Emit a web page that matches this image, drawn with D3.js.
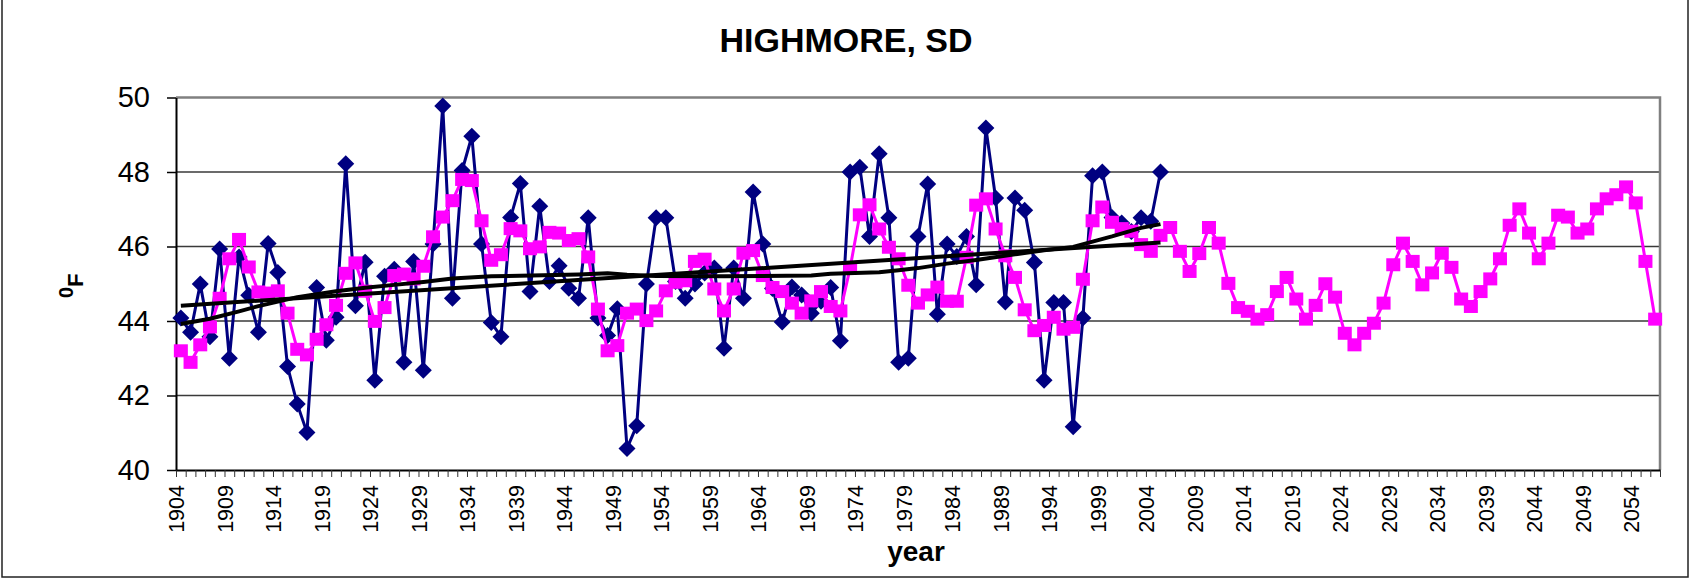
<!DOCTYPE html>
<html>
<head>
<meta charset="utf-8">
<script src="https://cdn.jsdelivr.net/npm/d3@7"></script>
<style>
  body { margin: 0; background: #fff; }
  svg { display: block; font-family: "Liberation Sans", Arial, sans-serif; }
</style>
</head>
<body>
<div id="chart"></div>
<script>
// annual mean temperature, Highmore SD (observed 1904-2005)
var observedStart = 1904;
var observed = [
	44.08, 43.70, 44.99, 43.58, 45.93, 43.00, 45.72, 44.69, 43.70, 46.08,
	45.30, 42.78, 41.77, 41.01, 44.90, 43.48, 44.10, 48.22, 44.41, 45.58,
	42.41, 45.20, 45.39, 42.89, 45.60, 42.68, 46.07, 49.77, 44.61, 48.04,
	48.96, 46.07, 43.96, 43.58, 46.78, 47.69, 44.79, 47.08, 45.06, 45.48,
	44.88, 44.61, 46.77, 44.08, 43.61, 44.33, 40.58, 41.19, 44.99, 46.77,
	46.77, 45.06, 44.61, 44.99, 45.29, 45.42, 43.27, 45.42, 44.61, 47.46,
	46.07, 44.87, 43.97, 44.91, 44.70, 44.21, 44.53, 44.90, 43.47, 48.00,
	48.13, 46.27, 48.49, 46.77, 42.89, 43.00, 46.27, 47.68, 44.18, 46.07,
	45.73, 46.27, 44.97, 49.18, 47.30, 44.51, 47.30, 46.97, 45.57, 42.41,
	44.50, 44.50, 41.16, 44.08, 47.90, 48.00, 46.78, 46.63, 46.40, 46.77,
	46.68, 48.00
];

// pink series, 1904-2056
var projectedStart = 1904;
var projected = [
	43.20, 42.89, 43.36, 43.84, 44.61, 45.67, 46.19, 45.45, 44.78, 44.75,
	44.81, 44.21, 43.24, 43.09, 43.51, 43.90, 44.42, 45.28, 45.56, 44.80,
	43.99, 44.36, 45.22, 45.26, 45.13, 45.47, 46.26, 46.79, 47.23, 47.80,
	47.77, 46.69, 45.63, 45.78, 46.48, 46.42, 45.94, 45.99, 46.38, 46.36,
	46.16, 46.21, 45.72, 44.32, 43.20, 43.34, 44.21, 44.32, 44.01, 44.27,
	44.81, 45.04, 45.08, 45.60, 45.66, 44.86, 44.27, 44.86, 45.82, 45.89,
	45.22, 44.90, 44.79, 44.48, 44.21, 44.54, 44.79, 44.39, 44.27, 45.42,
	46.85, 47.12, 46.47, 45.98, 45.67, 44.96, 44.48, 44.70, 44.91, 44.53,
	44.53, 45.71, 47.11, 47.28, 46.47, 45.75, 45.17, 44.30, 43.74, 43.88,
	44.10, 43.78, 43.83, 45.12, 46.69, 47.06, 46.65, 46.48, 46.41, 46.05,
	45.87, 46.30, 46.51, 45.87, 45.33, 45.81, 46.51, 46.09, 45.01, 44.36,
	44.26, 44.05, 44.17, 44.79, 45.17, 44.59, 44.05, 44.42, 45.00, 44.64,
	43.67, 43.36, 43.67, 43.94, 44.48, 45.51, 46.09, 45.60, 44.97, 45.29,
	45.82, 45.44, 44.59, 44.39, 44.79, 45.13, 45.67, 46.57, 47.01, 46.36,
	45.67, 46.09, 46.84, 46.79, 46.36, 46.47, 47.01, 47.28, 47.39, 47.60,
	47.17, 45.60, 44.05
];

// straight trend line (ends)
var trendYears = [1904, 2005];
var trendValues = [44.41, 46.11];

// curved trend line, read at knots
var curveYears = [1904, 1907, 1910, 1912, 1916, 1920, 1923, 1926, 1929, 1932,
	1936, 1945, 1948, 1950, 1953, 1960, 1969, 1971, 1976, 1978,
	1980, 1983, 1986, 1990, 1993, 1996, 1998, 2000, 2003, 2005];
var curveValues = [43.92, 44.06, 44.26, 44.40, 44.64, 44.80, 44.89, 44.97, 45.05, 45.14,
	45.20, 45.25, 45.28, 45.24, 45.21, 45.20, 45.22, 45.27, 45.31, 45.36,
	45.42, 45.54, 45.64, 45.79, 45.90, 45.99, 46.13, 46.27, 46.50, 46.60];

var yTicks = [40, 42, 44, 46, 48, 50];
var firstYear = 1904, lastYear = 2056, labelStep = 5;

(function() {
	var width = 1690, height = 581,
		plotLeft = 176, plotRight = 1660, plotTop = 97.5, plotBottom = 470;

	var svg = d3.select("#chart").append("svg")
		.attr("width", width)
		.attr("height", height);

	// chart frame
	svg.append("rect")
		.attr("x", 2).attr("y", -3)
		.attr("width", 1686).attr("height", 580)
		.attr("fill", "none")
		.attr("stroke", "#222")
		.attr("stroke-width", 1.5);

	var x = d3.scaleLinear().domain([firstYear, lastYear + 1]).range([plotLeft, plotRight]);
	var y = d3.scaleLinear().domain([40, 50]).range([plotBottom, plotTop]);
	var cx = function(yr) { return x(yr + 0.5); };

	// grid
	svg.append("g").selectAll("line")
		.data(yTicks.filter(function(t) { return t > 40 && t < 50; }))
		.join("line")
		.attr("x1", plotLeft).attr("x2", plotRight)
		.attr("y1", function(d) { return y(d); })
		.attr("y2", function(d) { return y(d); })
		.attr("stroke", "#3a3a3a")
		.attr("stroke-width", 1.5);

	// plot area border (top + right)
	svg.append("path")
		.attr("d", "M" + plotLeft + "," + y(50) + "H" + plotRight + "V" + plotBottom)
		.attr("fill", "none")
		.attr("stroke", "#808080")
		.attr("stroke-width", 2.5);

	// x axis
	var xAxis = svg.append("g")
		.attr("transform", "translate(0," + plotBottom + ")")
		.call(d3.axisBottom(x)
			.tickValues(d3.range(firstYear, lastYear + 2))
			.tickSize(7)
			.tickSizeOuter(0)
			.tickFormat(function(d) {
				return ((d - firstYear) % labelStep === 0 && d <= lastYear) ? d : "";
			}));
	xAxis.select(".domain").attr("stroke", "#000").attr("stroke-width", 2);
	xAxis.selectAll(".tick line").attr("stroke", "#333").attr("stroke-width", 1);
	xAxis.selectAll(".tick text")
		.attr("transform", "rotate(-90)")
		.attr("x", -15)
		.attr("y", 0)
		.attr("dy", "0.36em")
		.style("text-anchor", "end")
		.style("font-size", "21.5px")
		.attr("fill", "#000");

	// y axis
	var yAxis = svg.append("g")
		.attr("transform", "translate(" + plotLeft + ",0)")
		.call(d3.axisLeft(y)
			.tickValues(yTicks)
			.tickSize(9)
			.tickSizeOuter(0)
			.tickPadding(17));
	yAxis.select(".domain").attr("stroke", "#000").attr("stroke-width", 2);
	yAxis.selectAll(".tick line").attr("stroke", "#000").attr("stroke-width", 1.5);
	yAxis.selectAll(".tick text")
		.style("font-size", "29px")
		.attr("fill", "#000");

	var obs = observed.map(function(v, i) { return { yr: observedStart + i, v: v }; });
	var proj = projected.map(function(v, i) { return { yr: projectedStart + i, v: v }; });

	var line = d3.line()
		.x(function(d) { return cx(d.yr); })
		.y(function(d) { return y(d.v); });

	// observed series
	svg.append("path")
		.datum(obs)
		.attr("d", line)
		.attr("fill", "none")
		.attr("stroke", "#000080")
		.attr("stroke-width", 3);

	svg.append("g").selectAll("path")
		.data(obs)
		.join("path")
		.attr("transform", function(d) { return "translate(" + cx(d.yr) + "," + y(d.v) + ")"; })
		.attr("d", "M0,-8.5L8.5,0L0,8.5L-8.5,0Z")
		.attr("fill", "#000080");

	// pink series
	svg.append("path")
		.datum(proj)
		.attr("d", line)
		.attr("fill", "none")
		.attr("stroke", "#ff00ff")
		.attr("stroke-width", 3);

	svg.append("g").selectAll("rect")
		.data(proj)
		.join("rect")
		.attr("x", function(d) { return cx(d.yr) - 7; })
		.attr("y", function(d) { return y(d.v) - 6.5; })
		.attr("width", 14)
		.attr("height", 13)
		.attr("fill", "#ff00ff");

	// trend lines
	var trend = trendYears.map(function(yr, i) { return { yr: yr, v: trendValues[i] }; });
	var curve = curveYears.map(function(yr, i) { return { yr: yr, v: curveValues[i] }; });

	svg.append("path")
		.datum(curve)
		.attr("d", line)
		.attr("fill", "none")
		.attr("stroke", "#000")
		.attr("stroke-width", 4)
		.attr("stroke-linejoin", "round");

	svg.append("path")
		.datum(trend)
		.attr("d", line)
		.attr("fill", "none")
		.attr("stroke", "#000")
		.attr("stroke-width", 4);

	// title
	svg.append("text")
		.attr("x", 846)
		.attr("y", 52)
		.attr("text-anchor", "middle")
		.style("font-size", "34px")
		.style("font-weight", "bold")
		.text("HIGHMORE, SD");

	// x title
	svg.append("text")
		.attr("x", 916)
		.attr("y", 561)
		.attr("text-anchor", "middle")
		.style("font-size", "28px")
		.style("font-weight", "bold")
		.text("year");

	// y title (degrees F)
	var yt = svg.append("text")
		.attr("transform", "translate(83,298) rotate(-90)")
		.style("font-weight", "bold");
	yt.append("tspan").style("font-size", "20px").attr("dy", -10).text("0");
	yt.append("tspan").style("font-size", "22px").attr("dy", 10).text("F");
})();
</script>
</body>
</html>
